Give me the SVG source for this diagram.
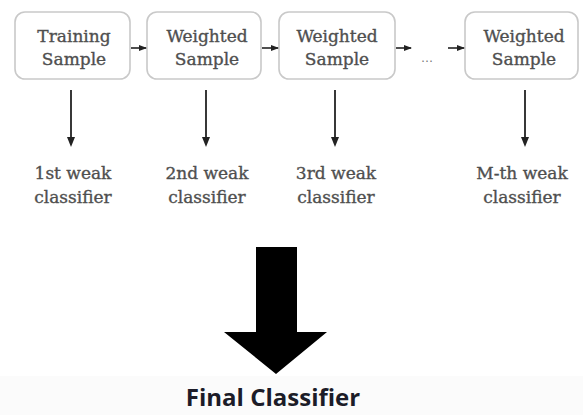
<svg xmlns="http://www.w3.org/2000/svg" width="583" height="415" viewBox="0 0 583 415">
<defs>
<style>
.box{fill:#fff;stroke:#c9c9c9;stroke-width:1.6}
.t{font-family:"DejaVu Serif","Liberation Serif",serif;font-size:17px;fill:#4f4f4f;stroke:#4f4f4f;stroke-width:0.35;text-anchor:middle}
.lbl{font-family:"DejaVu Serif","Liberation Serif",serif;font-size:17px;fill:#4f4f4f;stroke:#4f4f4f;stroke-width:0.35;text-anchor:middle}
.c{stroke:#222;stroke-width:1.6;fill:none}
.d{stroke:#222;stroke-width:1.8;fill:none}
.final{font-family:"Open Sans","Liberation Sans",sans-serif;font-weight:bold;font-size:24px;fill:#1c1c28;text-anchor:middle}
</style>
<marker id="sh" markerWidth="8" markerHeight="6" refX="7" refY="3" orient="auto" markerUnits="userSpaceOnUse">
<path d="M0,0 L8,3 L0,6 Z" fill="#222"/>
</marker>
</defs>
<rect width="583" height="415" fill="#fff"/>
<rect x="0" y="376" width="583" height="39" fill="#fbfbfb"/>
<g id="n1"><rect class="box" x="15" y="12" width="115" height="67" rx="10"/><text class="t" x="74" y="42">Training</text><text class="t" x="74" y="65">Sample</text></g>
<g id="n2"><rect class="box" x="147" y="12" width="114" height="67" rx="10"/><text class="t" x="207" y="42">Weighted</text><text class="t" x="207" y="65">Sample</text></g>
<g id="n3"><rect class="box" x="279" y="12" width="116" height="67" rx="10"/><text class="t" x="337" y="42">Weighted</text><text class="t" x="337" y="65">Sample</text></g>
<g id="n4"><rect class="box" x="465" y="12" width="113" height="67" rx="10"/><text class="t" x="524" y="42">Weighted</text><text class="t" x="524" y="65">Sample</text></g>
<g id="dots"><text x="427" y="62" style="font-family:'DejaVu Sans',sans-serif;font-size:12px;fill:#777;text-anchor:middle">…</text></g>
<g id="l1"><text class="lbl" x="73" y="179">1st weak</text><text class="lbl" x="73" y="203">classifier</text></g>
<g id="l2"><text class="lbl" x="207" y="179">2nd weak</text><text class="lbl" x="207" y="203">classifier</text></g>
<g id="l3"><text class="lbl" x="336" y="179">3rd weak</text><text class="lbl" x="336" y="203">classifier</text></g>
<g id="l4"><text class="lbl" x="522" y="179">M-th weak</text><text class="lbl" x="522" y="203">classifier</text></g>
<g id="final"><text class="final" x="273" y="406">Final Classifier</text></g>
<g id="connectors">
<line class="c" x1="131" y1="48" x2="146" y2="48" marker-end="url(#sh)"/>
<line class="c" x1="262" y1="48" x2="278" y2="48" marker-end="url(#sh)"/>
<line class="c" x1="396" y1="48" x2="411" y2="48" marker-end="url(#sh)"/>
<line class="c" x1="448" y1="48" x2="464" y2="48" marker-end="url(#sh)"/>
<line class="d" x1="71" y1="90" x2="71" y2="138"/><path d="M67,137 L75,137 L71,147 Z" fill="#222"/>
<line class="d" x1="206" y1="90" x2="206" y2="138"/><path d="M202,137 L210,137 L206,147 Z" fill="#222"/>
<line class="d" x1="335" y1="90" x2="335" y2="138"/><path d="M331,137 L339,137 L335,147 Z" fill="#222"/>
<line class="d" x1="525" y1="90" x2="525" y2="138"/><path d="M521,137 L529,137 L525,147 Z" fill="#222"/>
<path id="bigarrow" d="M256,247 L297,247 L297,332 L327,332 L276,374 L224,332 L256,332 Z" fill="#000"/>
</g>
</svg>
